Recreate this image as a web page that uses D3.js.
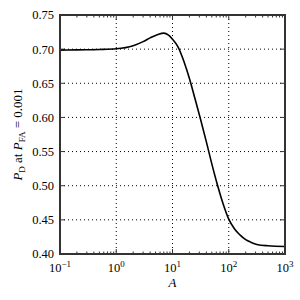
<!DOCTYPE html>
<html>
<head>
<meta charset="utf-8">
<script src="https://cdn.jsdelivr.net/npm/d3@7"></script>
<style>
  body { margin: 0; background: #fff; }
  svg text { font-family: "Liberation Serif", "DejaVu Serif", serif; fill: #000; }
</style>
</head>
<body>
<svg id="chart" width="300" height="300"></svg>
<script>
// Detection probability vs A
const aA = [0.1, 0.2, 0.5, 1, 2, 3, 4, 5.5, 7, 8.5, 10, 12.6, 15.8, 20, 25, 31.6, 39.8, 50, 63, 79, 100, 126, 158, 200, 251, 316, 500, 1000];
const aPd = [0.6985, 0.699, 0.6995, 0.7005, 0.705, 0.711, 0.7165, 0.7215, 0.7235, 0.7205, 0.7145, 0.703, 0.683, 0.657, 0.628, 0.597, 0.565, 0.532, 0.501, 0.474, 0.451, 0.437, 0.428, 0.421, 0.417, 0.414, 0.412, 0.411];
const aYTicks = [0.40, 0.45, 0.50, 0.55, 0.60, 0.65, 0.70, 0.75];
const aXTicks = [0.1, 1, 10, 100, 1000];
const aXTickExp = ['\u22121', '0', '1', '2', '3'];

const jPad = { l: 60, t: 15, r: 15, b: 46 };
const iW = 300 - jPad.l - jPad.r;
const iH = 300 - jPad.t - jPad.b;

const oSvg = d3.select('#chart');
const oG = oSvg.append('g').attr('transform', `translate(${jPad.l},${jPad.t})`);

const oX = d3.scaleLog().domain([0.1, 1000]).range([0, iW]);
const oY = d3.scaleLinear().domain([0.40, 0.75]).range([iH, 0]);

// Minor ticks for the log axis
const aMinor = [];
[0.1, 1, 10, 100].forEach(b => { for (let k = 2; k <= 9; k++) aMinor.push(b * k); });

// Dotted grid
oG.append('g').selectAll('line').data(aXTicks.slice(1, -1)).join('line')
  .attr('x1', d => oX(d)).attr('x2', d => oX(d)).attr('y1', 0).attr('y2', iH)
  .attr('stroke', '#000').attr('stroke-width', 1).attr('stroke-dasharray', '1,3');
oG.append('g').selectAll('line').data(aYTicks.slice(1, -1)).join('line')
  .attr('y1', d => oY(d)).attr('y2', d => oY(d)).attr('x1', 0).attr('x2', iW)
  .attr('stroke', '#000').attr('stroke-width', 1).attr('stroke-dasharray', '1,3');

// Inward ticks on all four sides
const oTicks = oG.append('g').attr('stroke', '#333').attr('stroke-width', 1);
aXTicks.forEach(d => {
  oTicks.append('line').attr('x1', oX(d)).attr('x2', oX(d)).attr('y1', iH).attr('y2', iH - 5);
  oTicks.append('line').attr('x1', oX(d)).attr('x2', oX(d)).attr('y1', 0).attr('y2', 5);
});
aMinor.forEach(d => {
  oTicks.append('line').attr('x1', oX(d)).attr('x2', oX(d)).attr('y1', iH).attr('y2', iH - 2.5);
  oTicks.append('line').attr('x1', oX(d)).attr('x2', oX(d)).attr('y1', 0).attr('y2', 2.5);
});
aYTicks.forEach(d => {
  oTicks.append('line').attr('y1', oY(d)).attr('y2', oY(d)).attr('x1', 0).attr('x2', 5);
  oTicks.append('line').attr('y1', oY(d)).attr('y2', oY(d)).attr('x1', iW).attr('x2', iW - 5);
});

// Curve
const fnLine = d3.line()
  .x((d, i) => oX(aA[i]))
  .y(d => oY(d))
  .curve(d3.curveMonotoneX);
oG.append('path').datum(aPd)
  .attr('d', fnLine)
  .attr('fill', 'none').attr('stroke', '#000').attr('stroke-width', 1.6);

// Frame
oG.append('rect').attr('width', iW).attr('height', iH)
  .attr('fill', 'none').attr('stroke', '#333').attr('stroke-width', 2);

// Tick labels
oG.append('g').selectAll('text').data(aYTicks).join('text')
  .attr('x', -6).attr('y', d => oY(d)).attr('dy', '0.35em')
  .attr('text-anchor', 'end').attr('font-size', 12.5)
  .text(d => d.toFixed(2));

const oXLab = oG.append('g').selectAll('text').data(aXTicks).join('text')
  .attr('x', d => oX(d)).attr('y', iH + 18)
  .attr('text-anchor', 'middle').attr('font-size', 12.5);
oXLab.append('tspan').text('10');
oXLab.append('tspan').attr('dy', -5).attr('font-size', 9).text((d, i) => aXTickExp[i]);

// Axis labels
oSvg.append('text')
  .attr('x', jPad.l + iW / 2).attr('y', 287)
  .attr('text-anchor', 'middle').attr('font-size', 13).attr('font-style', 'italic')
  .text('A');

const oYL = oSvg.append('text')
  .attr('transform', `translate(22,${jPad.t + iH / 2}) rotate(-90)`)
  .attr('text-anchor', 'middle').attr('font-size', 13);
oYL.append('tspan').attr('font-style', 'italic').text('P');
oYL.append('tspan').attr('dy', 3).attr('font-size', 9).text('D');
oYL.append('tspan').attr('dy', -3).text(' at ');
oYL.append('tspan').attr('font-style', 'italic').text('P');
oYL.append('tspan').attr('dy', 3).attr('font-size', 9).text('FA');
oYL.append('tspan').attr('dy', -3).text(' = 0.001');
</script>
</body>
</html>
